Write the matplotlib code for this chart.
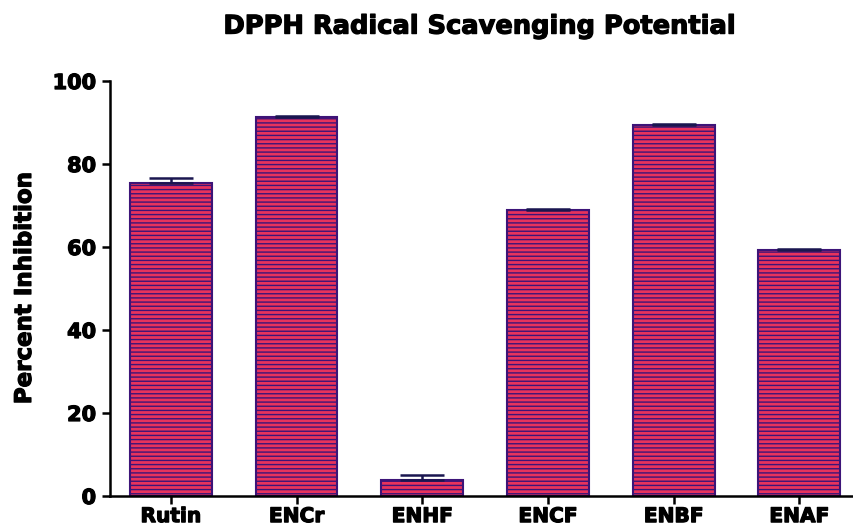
import matplotlib
matplotlib.use("Agg")
import matplotlib.pyplot as plt
import matplotlib.patheffects as pe

categories = ["Rutin", "ENCr", "ENHF", "ENCF", "ENBF", "ENAF"]
values = [75.4, 91.3, 3.9, 68.9, 89.3, 59.2]
errors = [1.2, 0.3, 1.2, 0.3, 0.3, 0.4]
yticks = [0, 20, 40, 60, 80, 100]

plt.rcParams['font.family'] = ['DejaVu Sans']
plt.rcParams['hatch.linewidth'] = 1.0

heavy = [pe.withStroke(linewidth=0.9, foreground='black')]

fig = plt.figure(figsize=(8.54, 5.32), dpi=100)
ax = fig.add_axes([0.1288, 0.0677, 0.869, 0.78])

x = list(range(len(categories)))
ax.bar(x, values, width=0.65, color='#e8335c', edgecolor='#3d1478',
       linewidth=1.5, hatch='----', zorder=2)
ax.errorbar(x, values, yerr=[[0]*len(errors), errors], fmt='none',
            ecolor='#1a1650', elinewidth=1.8, capsize=16, capthick=1.8, zorder=3)

ax.set_xlim(-0.485, 5.42)
ax.set_ylim(0, 100)
ax.set_yticks(yticks)
ax.set_xticks(x)
ax.set_xticklabels(categories)
for lab in ax.get_xticklabels():
    lab.set_fontweight('bold')
    lab.set_fontsize(14.5)
    lab.set_path_effects(heavy)
for lab in ax.get_yticklabels():
    lab.set_fontweight('bold')
    lab.set_fontsize(15)
    lab.set_path_effects(heavy)
ax.spines['top'].set_visible(False)
ax.spines['right'].set_visible(False)
ax.spines['left'].set_linewidth(1.8)
ax.spines['bottom'].set_linewidth(1.8)
ax.tick_params(axis='x', direction='out', length=6, width=1.8, pad=2)
ax.tick_params(axis='y', direction='out', length=6, width=1.8, pad=4)
yl = ax.set_ylabel("Percent Inhibition", fontsize=16.5, fontweight='bold', labelpad=12)
yl.set_path_effects(heavy)
fig.text(0.562, 0.95, "DPPH Radical Scavenging Potential", fontsize=18.5,
         fontweight='bold', ha='center', va='center', path_effects=heavy)

fig.savefig("out.png", dpi=100)
